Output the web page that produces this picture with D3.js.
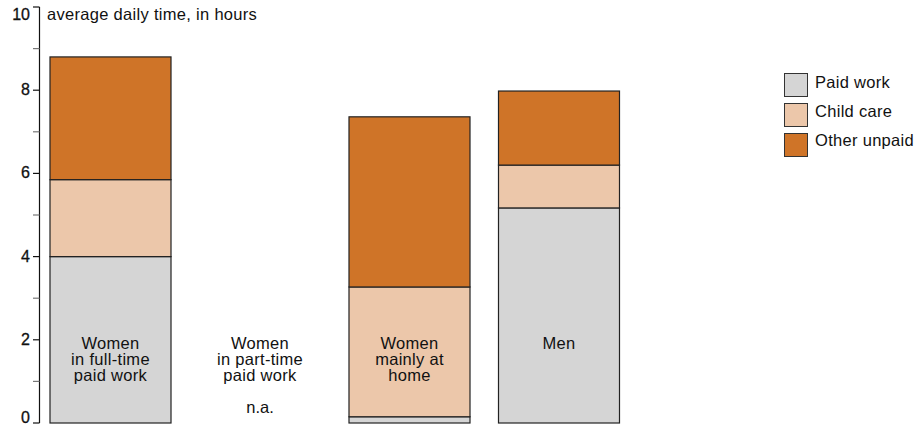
<!DOCTYPE html>
<html><head><meta charset="utf-8">
<script src="https://cdn.jsdelivr.net/npm/d3@7"></script>
<style>body{margin:0;background:#fff;} svg{display:block;font-family:"Liberation Sans",Arial,sans-serif;}</style>
</head><body>
<svg id="c" width="921" height="426"></svg>
<script>
const categories = ["fulltime","parttime","home","men"];
const categoryLabels = [["Women","in full-time","paid work"],["Women","in part-time","paid work"],["Women","mainly at","home"],["Men"]];
const seriesNames = ["Paid work","Child care","Other unpaid"];
const paidWork   = [4.0, null, 0.15, 5.17];
const childCare  = [1.85, null, 3.12, 1.03];
const otherUnpaid= [2.95, null, 4.09, 1.78];
const majorTicks = [0,2,4,6,8,10];
const minorTicks = [1,3,5,7,9];
const colors = ["#d5d5d5","#ecc7aa","#cf7428"];

const svg = d3.select("#c");
const y = d3.scaleLinear().domain([0,10]).range([423,7]);
const x = d3.scaleBand().domain(categories).range([50,619.5]).paddingInner(0.1906).paddingOuter(0);

// axis
const axisX = 39.5;
svg.append("line").attr("x1",axisX).attr("x2",axisX).attr("y1",y(10)).attr("y2",y(0)).attr("stroke","#111").attr("stroke-width",1.2);
svg.selectAll(".maj").data(majorTicks).join("line")
  .attr("x1",33).attr("x2",axisX).attr("y1",d=>y(d)).attr("y2",d=>y(d)).attr("stroke","#111").attr("stroke-width",1.2);
svg.selectAll(".min").data(minorTicks).join("line")
  .attr("x1",33).attr("x2",axisX).attr("y1",d=>y(d)).attr("y2",d=>y(d)).attr("stroke","#777").attr("stroke-width",1.2);
svg.selectAll(".tl").data(majorTicks).join("text")
  .attr("x",30).attr("y",d=>y(d)+ (d===10?13:(d===0?0:5))).attr("text-anchor","end")
  .attr("font-family","'Liberation Sans Narrow','Arial Narrow',sans-serif").attr("font-size",16)
  .attr("fill","#111").attr("stroke","#111").attr("stroke-width",0.3)
  .text(d=>d);
svg.append("text").attr("x",47).attr("y",20).attr("font-size",16.5).attr("letter-spacing",0.3).attr("fill","#111").text("average daily time, in hours");

// bars
const series = [paidWork, childCare, otherUnpaid];
categories.forEach((c,i)=>{
  if (paidWork[i]==null) return;
  let base = 0;
  series.forEach((s,k)=>{
    const v = s[i];
    svg.append("rect").attr("x",x(c)).attr("width",x.bandwidth())
      .attr("y",y(base+v)).attr("height",y(base)-y(base+v))
      .attr("fill",colors[k]).attr("stroke","#222").attr("stroke-width",1.2);
    base += v;
  });
});

// category labels
categories.forEach((c,i)=>{
  const t = svg.append("text").attr("text-anchor","middle").attr("font-size",16.5).attr("letter-spacing",0.3).attr("fill","#111");
  categoryLabels[i].forEach((l,j)=>{
    t.append("tspan").attr("x",x(c)+x.bandwidth()/2).attr("y",349+j*16).text(l);
  });
  if (paidWork[i]==null){
    svg.append("text").attr("text-anchor","middle").attr("font-size",16.5).attr("fill","#111")
      .attr("x",x(c)+x.bandwidth()/2).attr("y",413).text("n.a.");
  }
});

// legend
seriesNames.forEach((n,k)=>{
  svg.append("rect").attr("x",784.5).attr("y",73.5+k*30).attr("width",23).attr("height",23)
    .attr("fill",colors[k]).attr("stroke","#333").attr("stroke-width",1);
  svg.append("text").attr("x",815).attr("y",88+k*29).attr("font-size",16.5).attr("letter-spacing",0.3).attr("fill","#111").text(n);
});
</script>
</body></html>
